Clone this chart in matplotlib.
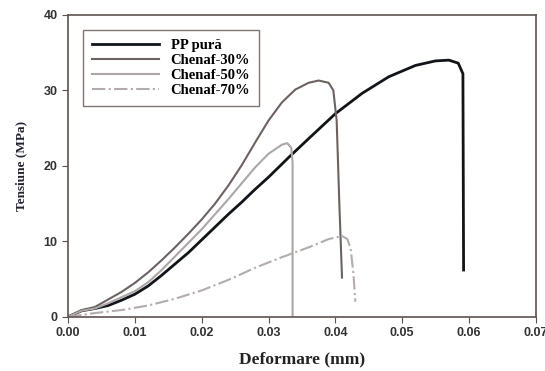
import matplotlib
matplotlib.use("Agg")
import matplotlib.pyplot as plt

# PP pura
pp_x = [0, 0.002, 0.004, 0.006, 0.008, 0.010, 0.012, 0.014, 0.016, 0.018, 0.020,
        0.022, 0.024, 0.026, 0.028, 0.030, 0.033, 0.036, 0.040, 0.044, 0.048,
        0.052, 0.055, 0.057, 0.0584, 0.0591, 0.0592]
pp_y = [0, 0.8, 1.1, 1.5, 2.2, 3.0, 4.1, 5.5, 7.0, 8.5, 10.2,
        11.9, 13.6, 15.2, 16.9, 18.5, 21.1, 23.6, 26.9, 29.6, 31.8,
        33.3, 33.9, 34.0, 33.6, 32.2, 6.2]

# Chenaf-30%
c30_x = [0, 0.002, 0.004, 0.006, 0.008, 0.010, 0.012, 0.014, 0.016, 0.018, 0.020,
         0.022, 0.024, 0.026, 0.028, 0.030, 0.032, 0.034, 0.036, 0.0375, 0.039,
         0.0397, 0.0402, 0.0406, 0.041]
c30_y = [0, 0.9, 1.3, 2.3, 3.3, 4.5, 5.9, 7.5, 9.2, 11.0, 12.9,
         15.0, 17.4, 20.1, 23.1, 26.0, 28.4, 30.1, 31.0, 31.3, 31.0,
         30.0, 26.0, 15.0, 5.2]

# Chenaf-50%
c50_x = [0, 0.002, 0.004, 0.006, 0.008, 0.010, 0.012, 0.014, 0.016, 0.018, 0.020,
         0.022, 0.024, 0.026, 0.028, 0.030, 0.032, 0.0328, 0.0334, 0.0336, 0.0336]
c50_y = [0, 0.8, 1.1, 1.8, 2.6, 3.4, 4.6, 6.2, 8.0, 9.8, 11.6,
         13.6, 15.6, 17.7, 19.8, 21.6, 22.8, 23.0, 22.4, 20.5, 0]

# Chenaf-70%
c70_x = [0, 0.004, 0.008, 0.012, 0.016, 0.020, 0.024, 0.028, 0.032, 0.036,
         0.039, 0.041, 0.0418, 0.0423, 0.0427, 0.043]
c70_y = [0, 0.5, 0.9, 1.5, 2.4, 3.5, 4.9, 6.5, 7.9, 9.2,
         10.3, 10.7, 10.3, 9.0, 5.8, 2.0]

fig, ax = plt.subplots(figsize=(5.45, 3.71), dpi=100)
fig.subplots_adjust(left=0.125, right=0.983, bottom=0.146, top=0.96)

ax.plot(pp_x, pp_y, color='#111418', lw=2.0, label='PP pură')
ax.plot(c30_x, c30_y, color='#6c6260', lw=1.5, label='Chenaf-30%')
ax.plot(c50_x, c50_y, color='#aca6a6', lw=1.5, label='Chenaf-50%')
ax.plot(c70_x, c70_y, color='#b4acac', lw=1.5, ls='-.', label='Chenaf-70%')

ax.set_xlim(0, 0.07)
ax.set_ylim(0, 40)
ax.set_xticks([0, 0.01, 0.02, 0.03, 0.04, 0.05, 0.06, 0.07])
ax.set_xticklabels(['0.00', '0.01', '0.02', '0.03', '0.04', '0.05', '0.06', '0.07'])
ax.set_yticks([0, 10, 20, 30, 40])

frame = '#5e524e'
for s in ax.spines.values():
    s.set_color(frame)
    s.set_linewidth(1.2)
ax.tick_params(direction='out', length=4, color=frame, labelsize=9, labelcolor='#333333')
for lab in ax.get_xticklabels() + ax.get_yticklabels():
    lab.set_fontweight('bold')
    lab.set_family('Liberation Sans')

ax.set_xlabel('Deformare (mm)', fontsize=12.5, fontweight='bold', family='Liberation Serif',
              color='#222222', labelpad=9)
ax.set_ylabel('Tensiune (MPa)', fontsize=9.5, fontweight='bold', family='Liberation Serif',
              color='#222233', labelpad=12)

leg = ax.legend(loc='upper left', bbox_to_anchor=(0.032, 0.95), borderaxespad=0,
                fancybox=False,
                prop={'family': 'Liberation Serif', 'weight': 'bold', 'size': 10.5},
                handlelength=4.6, labelspacing=0.12, borderpad=0.6, handletextpad=0.8)
leg.get_frame().set_edgecolor(frame)
leg.get_frame().set_linewidth(1.0)

fig.savefig('out.png')
